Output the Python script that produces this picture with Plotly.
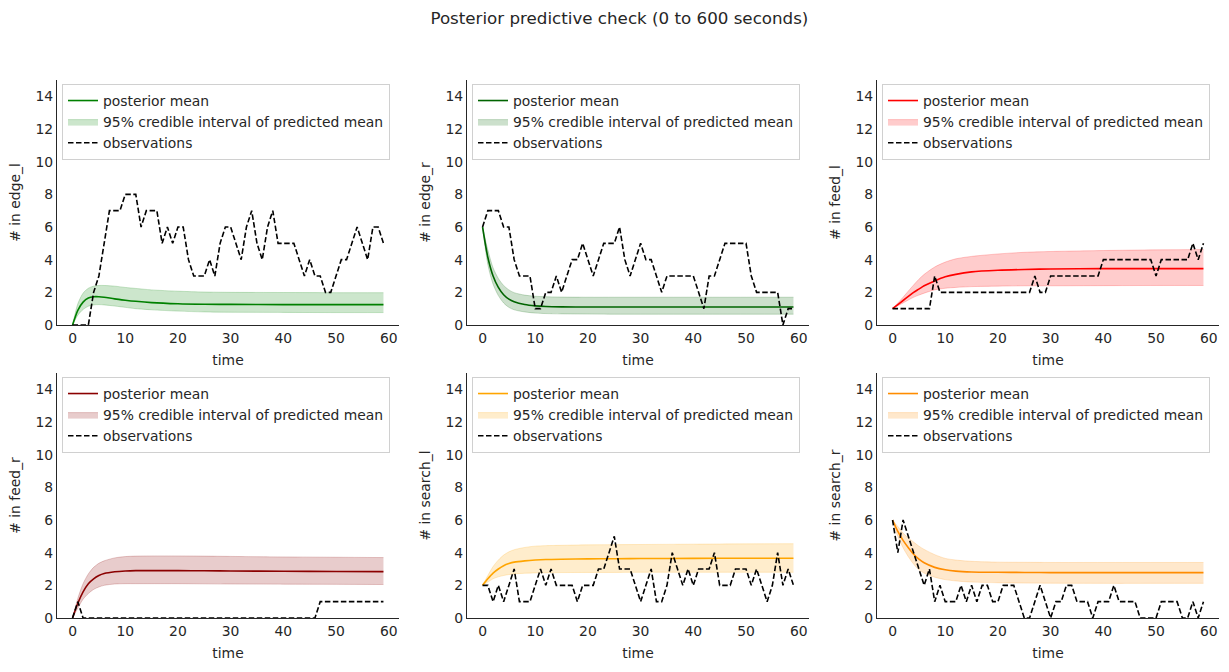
import plotly.graph_objects as go

# ---------------- data ----------------
time_obs = list(range(60))
model_t = [0, 1, 2, 3, 4, 5, 6, 8, 10, 12, 15, 20, 25, 30, 40, 50, 59]

panels = ["edge_l", "edge_r", "feed_l", "feed_r", "search_l", "search_r"]

obs_edge_l = [0,0,0,0,2,3,5,7,7,7, 8,8,8,6,7,7,7,5,6,5, 6,6,4,3,3,3,4,3,5,6,
              6,5,4,6,7,5,4,6,7,5, 5,5,5,4,3,4,3,3,2,2, 3,4,4,5,6,5,4,6,6,5]
obs_edge_r = [6,7,7,7,6,6,4,3,3,3, 1,1,2,2,3,2,3,4,4,5, 4,3,4,5,5,5,6,4,3,4,
              5,4,4,3,2,3,3,3,3,3, 3,2,1,3,3,4,5,5,5,5, 5,3,2,2,2,2,2,0,1,1]
obs_feed_l = [1,1,1,1,1,1,1,1,3,2, 2,2,2,2,2,2,2,2,2,2, 2,2,2,2,2,2,2,3,2,2,
              3,3,3,3,3,3,3,3,3,3, 4,4,4,4,4,4,4,4,4,4, 3,4,4,4,4,4,4,5,4,5]
obs_feed_r = [0,1,0,0,0,0,0,0,0,0, 0,0,0,0,0,0,0,0,0,0, 0,0,0,0,0,0,0,0,0,0,
              0,0,0,0,0,0,0,0,0,0, 0,0,0,0,0,0,0,1,1,1, 1,1,1,1,1,1,1,1,1,1]
obs_search_l = [2,2,1,2,1,2,3,1,1,1, 2,3,2,3,2,2,2,2,1,2, 2,2,3,3,4,5,3,3,3,2,
                1,2,3,1,1,2,4,3,2,3, 2,3,3,3,4,2,2,2,3,3, 3,2,3,2,1,2,4,2,3,2]
obs_search_r = [6,4,6,5,4,3,2,3,1,2, 1,1,1,2,1,2,1,2,2,1, 1,2,2,2,1,0,0,1,2,1,
                0,1,1,2,2,1,1,1,0,1, 1,1,2,1,1,1,1,0,0,0, 0,1,1,1,1,0,0,1,0,1]

mean_edge_l = [0, 0.9, 1.4, 1.65, 1.73, 1.73, 1.7, 1.6, 1.52, 1.45, 1.37, 1.3, 1.27, 1.26, 1.25, 1.25, 1.25]
hi_edge_l   = [0, 1.3, 1.95, 2.25, 2.38, 2.42, 2.42, 2.38, 2.3, 2.24, 2.15, 2.07, 2.02, 2.0, 1.99, 1.98, 1.98]
lo_edge_l   = [0, 0.6, 0.95, 1.15, 1.23, 1.25, 1.23, 1.16, 1.08, 1.0, 0.93, 0.85, 0.8, 0.78, 0.77, 0.76, 0.76]

mean_edge_r = [6, 4.15, 3.0, 2.3, 1.85, 1.58, 1.42, 1.25, 1.17, 1.13, 1.11, 1.1, 1.1, 1.1, 1.1, 1.1, 1.1]
hi_edge_r   = [6, 4.6, 3.5, 2.85, 2.42, 2.15, 1.98, 1.83, 1.76, 1.73, 1.71, 1.7, 1.7, 1.7, 1.7, 1.7, 1.7]
lo_edge_r   = [6, 3.7, 2.5, 1.8, 1.35, 1.08, 0.93, 0.8, 0.73, 0.7, 0.68, 0.67, 0.66, 0.66, 0.66, 0.66, 0.66]

mean_feed_l = [1, 1.25, 1.5, 1.75, 2.0, 2.2, 2.4, 2.7, 2.95, 3.1, 3.25, 3.35, 3.4, 3.43, 3.45, 3.45, 3.45]
hi_feed_l   = [1, 1.35, 1.7, 2.08, 2.45, 2.8, 3.1, 3.55, 3.85, 4.05, 4.2, 4.35, 4.45, 4.5, 4.56, 4.6, 4.62]
lo_feed_l   = [1, 1.18, 1.35, 1.53, 1.7, 1.83, 1.95, 2.15, 2.25, 2.3, 2.35, 2.38, 2.4, 2.4, 2.41, 2.42, 2.42]

mean_feed_r = [0, 0.9, 1.6, 2.1, 2.4, 2.6, 2.72, 2.83, 2.88, 2.9, 2.9, 2.9, 2.89, 2.88, 2.86, 2.85, 2.84]
hi_feed_r   = [0, 1.2, 2.1, 2.7, 3.1, 3.35, 3.5, 3.68, 3.76, 3.79, 3.8, 3.8, 3.79, 3.77, 3.74, 3.72, 3.7]
lo_feed_r   = [0, 0.6, 1.15, 1.5, 1.75, 1.9, 2.0, 2.08, 2.1, 2.1, 2.1, 2.1, 2.09, 2.08, 2.07, 2.06, 2.05]

mean_search_l = [2, 2.4, 2.75, 3.0, 3.2, 3.33, 3.42, 3.5, 3.55, 3.58, 3.6, 3.62, 3.63, 3.64, 3.65, 3.66, 3.66]
hi_search_l   = [2, 2.6, 3.15, 3.55, 3.85, 4.05, 4.18, 4.32, 4.4, 4.43, 4.45, 4.48, 4.49, 4.5, 4.52, 4.54, 4.55]
lo_search_l   = [2, 2.2, 2.4, 2.52, 2.6, 2.66, 2.7, 2.74, 2.76, 2.77, 2.78, 2.79, 2.79, 2.8, 2.8, 2.8, 2.8]

mean_search_r = [6, 5.3, 4.75, 4.3, 3.9, 3.6, 3.38, 3.1, 2.95, 2.87, 2.82, 2.8, 2.79, 2.78, 2.78, 2.78, 2.78]
hi_search_r   = [6, 5.6, 5.2, 4.9, 4.65, 4.4, 4.2, 3.88, 3.65, 3.55, 3.47, 3.42, 3.41, 3.4, 3.4, 3.4, 3.4]
lo_search_r   = [6, 5.0, 4.3, 3.75, 3.3, 2.95, 2.75, 2.5, 2.35, 2.27, 2.2, 2.16, 2.14, 2.13, 2.12, 2.12, 2.12]

x_ticks = [0, 10, 20, 30, 40, 50, 60]
y_ticks = [0, 2, 4, 6, 8, 10, 12, 14]

title_text = "Posterior predictive check (0 to 600 seconds)"
label_mean = "posterior mean"
label_band = "95% credible interval of predicted mean"
label_obs = "observations"

# ---------------- styling ----------------
colors = {"edge_l": (0, 128, 0), "edge_r": (0, 100, 0), "feed_l": (255, 0, 0),
          "feed_r": (139, 0, 0), "search_l": (255, 165, 0), "search_r": (255, 140, 0)}
series = {
    "edge_l": (obs_edge_l, mean_edge_l, lo_edge_l, hi_edge_l),
    "edge_r": (obs_edge_r, mean_edge_r, lo_edge_r, hi_edge_r),
    "feed_l": (obs_feed_l, mean_feed_l, lo_feed_l, hi_feed_l),
    "feed_r": (obs_feed_r, mean_feed_r, lo_feed_r, hi_feed_r),
    "search_l": (obs_search_l, mean_search_l, lo_search_l, hi_search_l),
    "search_r": (obs_search_r, mean_search_r, lo_search_r, hi_search_r),
}

W, H = 1229, 672
col_px = [(57, 399), (467, 809), (877, 1219)]
row_px = [(80, 325), (373, 618)]
TXT = "#262626"
FONT = "DejaVu Sans"
FS = 13.9

fig = go.Figure()
layout = {}
for i, name in enumerate(panels):
    r, c = divmod(i, 3)
    k = i + 1
    xa = "x" if k == 1 else f"x{k}"
    ya = "y" if k == 1 else f"y{k}"
    leg = "legend" if k == 1 else f"legend{k}"
    obs, mean, lo, hi = series[name]
    rgb = colors[name]
    solid = f"rgb({rgb[0]},{rgb[1]},{rgb[2]})"
    faint = f"rgba({rgb[0]},{rgb[1]},{rgb[2]},0.2)"

    fig.add_trace(go.Scatter(x=model_t, y=lo, mode="lines", xaxis=xa, yaxis=ya,
                             line=dict(color=faint, width=1, shape="spline", smoothing=0.8),
                             showlegend=False, hoverinfo="skip", legend=leg))
    fig.add_trace(go.Scatter(x=model_t, y=hi, mode="lines", xaxis=xa, yaxis=ya,
                             line=dict(color=faint, width=1, shape="spline", smoothing=0.8),
                             fill="tonexty", fillcolor=faint, name=label_band,
                             legend=leg, legendrank=2))
    fig.add_trace(go.Scatter(x=model_t, y=mean, mode="lines", xaxis=xa, yaxis=ya,
                             line=dict(color=solid, width=1.6, shape="spline", smoothing=0.8),
                             name=label_mean, legend=leg, legendrank=1))
    fig.add_trace(go.Scatter(x=time_obs, y=obs, mode="lines", xaxis=xa, yaxis=ya,
                             line=dict(color="black", width=1.6, dash="5.5px,2.5px"),
                             name=label_obs, legend=leg, legendrank=3))

    x0, x1 = col_px[c]
    y0, y1 = row_px[r]
    axname_x = "xaxis" if k == 1 else f"xaxis{k}"
    axname_y = "yaxis" if k == 1 else f"yaxis{k}"
    layout[axname_x] = dict(domain=[x0 / W, x1 / W], anchor=ya, range=[-2.95, 61.95],
                            tickvals=x_ticks, ticks="", showgrid=False, zeroline=False,
                            showline=True, linecolor=TXT, linewidth=1.25,
                            tickfont=dict(size=FS, color=TXT, family=FONT),
                            title=dict(text="time", font=dict(size=FS, color=TXT, family=FONT), standoff=10),
                            automargin=False)
    layout[axname_y] = dict(domain=[1 - y1 / H, 1 - y0 / H], anchor=xa, range=[0, 15],
                            tickvals=y_ticks, ticks="", showgrid=False, zeroline=False,
                            showline=True, linecolor=TXT, linewidth=1.25,
                            tickfont=dict(size=FS, color=TXT, family=FONT),
                            title=dict(text=f"# in {name}", font=dict(size=FS, color=TXT, family=FONT), standoff=11),
                            automargin=False)
    layout[leg] = dict(x=(x0 + 5) / W, y=1 - (y0 + 4) / H, xanchor="left", yanchor="top",
                       xref="paper", yref="paper", traceorder="normal",
                       bgcolor="rgba(255,255,255,0.8)", bordercolor="#d0d0d0", borderwidth=1,
                       font=dict(size=FS, color=TXT, family=FONT), tracegroupgap=0,
                       itemwidth=30)

fig.update_layout(**layout)
fig.update_layout(
    width=W, height=H,
    margin=dict(l=0, r=0, t=0, b=0),
    paper_bgcolor="white", plot_bgcolor="white",
    title=dict(text=title_text, x=0.504, xanchor="center", y=1 - 18 / H, yanchor="middle",
               yref="container", font=dict(size=16.7, color=TXT, family=FONT)),
    font=dict(family=FONT, color=TXT),
)

fig.write_html("out.html", config={"displayModeBar": False},
               post_script="document.body.style.margin='0';document.body.style.overflow='hidden';")
